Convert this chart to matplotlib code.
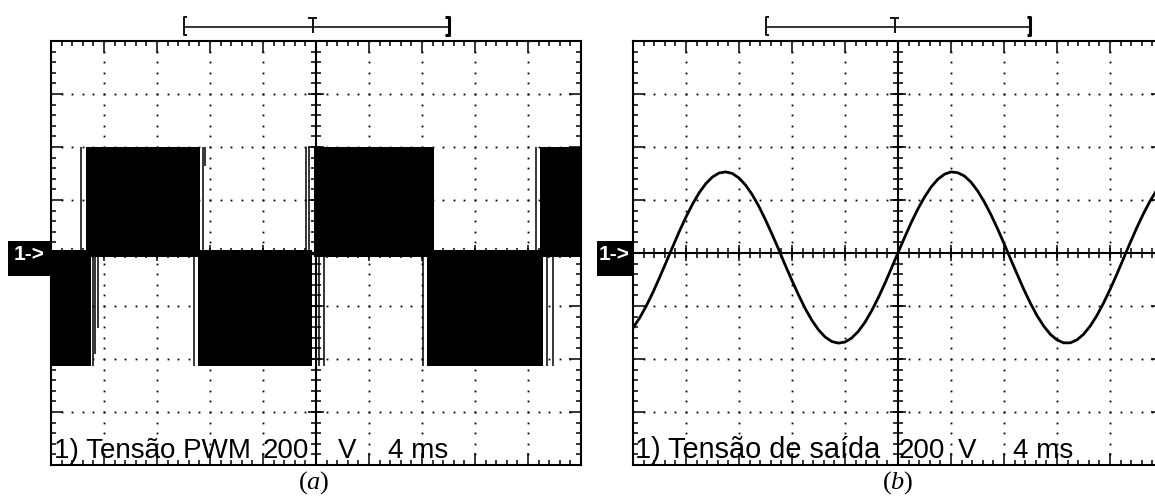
import numpy as np
import matplotlib.pyplot as plt
from matplotlib.patches import Rectangle

plt.rcParams['font.family'] = ['Liberation Sans', 'DejaVu Sans']
plt.rcParams['mathtext.fontset'] = 'custom'
plt.rcParams['mathtext.rm'] = 'Liberation Serif'
plt.rcParams['mathtext.it'] = 'Liberation Serif:italic'

W, H = 1155, 497

# scope settings: 4 ms/div, 200 V/div, 10 x 8 divisions
t_div = 4.0
v_div = 200.0

# (a) PWM voltage, black bands (ms) and levels (V)
pwm_pos_start = [-17.36, -0.15, 16.9]
pwm_pos_end = [-8.75, 8.9, 20.0]
pwm_neg_start = [-20.0, -8.93, 8.4]
pwm_neg_end = [-17.0, -0.3, 17.1]
pwm_pos_level = 400
pwm_neg_level = -426
# isolated narrow pulses near the band edges
pos_pulse_t = [-17.70, -8.55, -8.35, -0.75, -0.50, 16.60]
pos_pulse_lo = [0, 0, 330, 0, 0, 0]
neg_pulse_t = [-16.85, -16.65, -16.45, -9.20, 0.19, 0.64, 8.10, 17.40, 17.85]
neg_pulse_lo = [-426, -380, -283, -426, -426, -426, -426, -426, -426]

# (b) output voltage read every 0.5 ms from -20 ms to 20 ms
sine_v = [-283, -245, -200, -149, -93, -35, 24, 82, 136, 185,
          228, 262, 287, 302, 306, 300, 283, 256, 220, 176,
          125, 70, 13, -47, -104, -159, -210, -254, -290, -317,
          -334, -340, -336, -321, -296, -262, -219, -170, -116, -58,
          1, 59, 115, 166, 211, 249, 278, 297, 306, 303,
          291, 268, 235, 194, 146, 93, 36, -23, -81, -138,
          -190, -237, -276, -307, -328, -339, -339, -328, -307, -276,
          -237, -190, -138, -82, -23, 36, 93, 146, 194, 235,
          267]
sine_t = np.linspace(-20, 20, len(sine_v))

# screen caption pieces and their left edge (pixels)
words_a = ['1) Tensão PWM', '200', 'V', '4 ms']
xpos_a = [54, 263, 338, 388]
words_b = ['1) Tensão de saída', '200', 'V', '4 ms']
xpos_b = [635, 899, 958, 1013]
caption_size = [20, 20, 20, 20, 20.8, 20, 20, 20]

fig = plt.figure(figsize=(W / 100, H / 100), dpi=100)
axL = fig.add_axes([51 / W, 1 - 465 / H, 530 / W, 424 / H])
axR = fig.add_axes([633 / W, 1 - 465 / H, 530 / W, 424 / H])


def graticule(ax):
    ax.set_xlim(-5 * t_div, 5 * t_div)
    ax.set_ylim(-4 * v_div, 4 * v_div)
    ax.set_xticks(np.arange(-5, 6) * t_div)
    ax.set_xticks(np.arange(-25, 26) * t_div / 5, minor=True)
    ax.set_yticks(np.arange(-4, 5) * v_div)
    ax.set_yticks(np.arange(-20, 21) * v_div / 5, minor=True)
    ax.tick_params(which='both', direction='in', top=True, right=True,
                   labelbottom=False, labelleft=False, width=1.1, color='black')
    ax.tick_params(which='major', length=8.6)
    ax.tick_params(which='minor', length=3.8)
    for s in ax.spines.values():
        s.set_linewidth(1.5)
    # dotted division lines
    fine_t = np.arange(-25, 26) * t_div / 5
    fine_v = np.arange(-20, 21) * v_div / 5
    for k in [-3, -2, -1, 1, 2, 3]:
        ax.plot(fine_t, np.full(len(fine_t), k * v_div), ls='none', marker='s',
                ms=1.3, color='black', mew=0, zorder=1)
    for k in [-4, -3, -2, -1, 1, 2, 3, 4]:
        ax.plot(np.full(len(fine_v), k * t_div), fine_v, ls='none', marker='s',
                ms=1.3, color='black', mew=0, zorder=1)
    # centre cross with ticks
    ax.axhline(0, color='black', lw=1.5, zorder=2)
    ax.axvline(0, color='black', lw=1.5, zorder=2)
    ax.plot(fine_t, np.zeros(len(fine_t)), ls='none', marker='|', ms=6.5,
            mew=1.1, color='black', zorder=2)
    ax.plot(np.arange(-5, 6) * t_div, np.zeros(11), ls='none', marker='|', ms=12,
            mew=1.1, color='black', zorder=2)
    ax.plot(np.zeros(len(fine_v)), fine_v, ls='none', marker='_', ms=6.5,
            mew=1.1, color='black', zorder=2)
    ax.plot(np.zeros(9), np.arange(-4, 5) * v_div, ls='none', marker='_', ms=12,
            mew=1.1, color='black', zorder=2)
    # trigger / time window bar above the screen
    kw = dict(color='black', clip_on=False, solid_capstyle='butt')
    ax.plot([-10, 10], [853, 853], lw=1.1, **kw)
    ax.plot([-9.75, -10, -10, -9.75], [890, 890, 823, 823], lw=1.3, **kw)
    ax.plot([9.75, 10, 10, 9.75], [890, 890, 823, 823], lw=2.2, **kw)
    ax.plot([-0.25, -0.25], [830, 888], lw=1.3, **kw)
    ax.plot([-0.6, 0.1], [888, 888], lw=1.3, **kw)


graticule(axL)
graticule(axR)

# (a) PWM waveform
axL.bar(pwm_pos_start, pwm_pos_level + 15,
        width=np.array(pwm_pos_end) - np.array(pwm_pos_start),
        bottom=-15, align='edge', color='black', lw=0, zorder=3)
axL.bar(pwm_neg_start, pwm_neg_level - 10,
        width=np.array(pwm_neg_end) - np.array(pwm_neg_start),
        bottom=10, align='edge', color='black', lw=0, zorder=3)
axL.vlines(pos_pulse_t, pos_pulse_lo, pwm_pos_level, color='black', lw=1.1, zorder=3)
axL.vlines(neg_pulse_t, neg_pulse_lo, 0, color='black', lw=1.1, zorder=3)
axL.axhline(0, color='black', lw=2.4, zorder=3)

# (b) sine waveform
axR.plot(sine_t, sine_v, color='black', lw=2.0, zorder=3)

# screen annotations
for txt, xp, fs in zip(words_a + words_b, xpos_a + xpos_b, caption_size):
    fig.text(xp / W, 1 - 458 / H, txt, fontsize=fs, ha='left', va='baseline',
             color='black', zorder=5)

for x0, wbox, xc in [(8, 43, 29), (597, 36, 614)]:
    fig.patches.append(Rectangle((x0 / W, 1 - 276 / H), wbox / W, 35 / H,
                                 transform=fig.transFigure, color='black', lw=0))
    fig.text(xc / W, 1 - 255 / H, '1->', color='white', fontsize=15,
             fontweight='bold', ha='center', va='center')

fig.text(314 / W, 1 - 489 / H, r'$(a)$', fontsize=19, ha='center', va='baseline')
fig.text(898 / W, 1 - 489 / H, r'$(b)$', fontsize=19, ha='center', va='baseline')

fig.savefig('out.png', dpi=100)
